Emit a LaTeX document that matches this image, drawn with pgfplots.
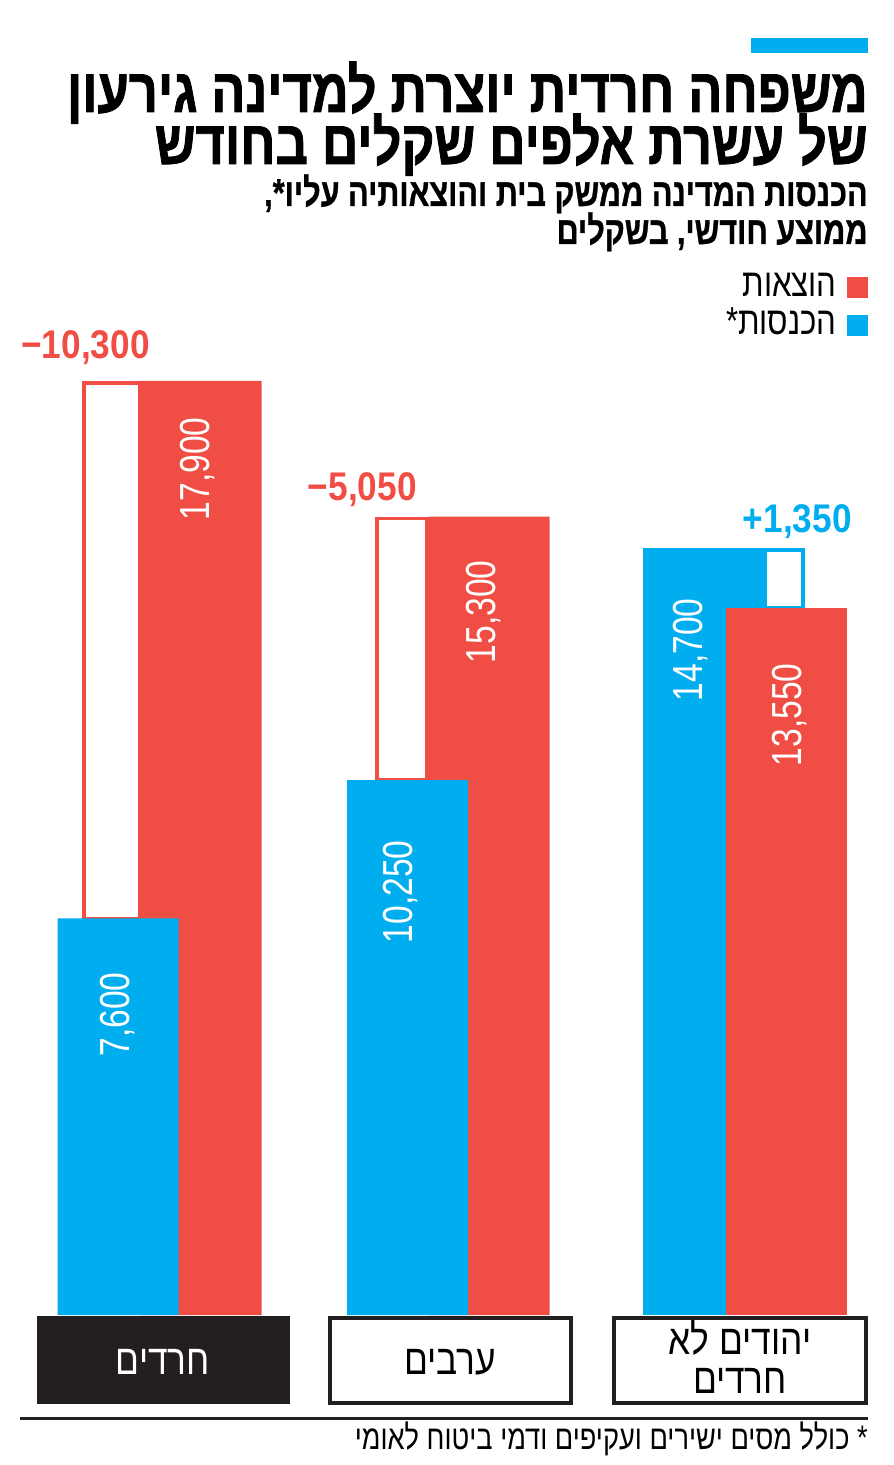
\documentclass[border=0pt]{standalone}
\usepackage{pgfplots}
\pgfplotsset{compat=1.18}
\usepackage{fontspec}
\setmainfont{Liberation Sans}
\TeXXeTstate=1
\newfontfamily\hebT[Script=Hebrew,FakeStretch=0.815,FakeBold=1.3]{Liberation Sans}
\newfontfamily\hebt[Script=Hebrew,FakeStretch=0.785,FakeBold=0.8]{Liberation Sans}
\newfontfamily\hebc[Script=Hebrew,FakeStretch=0.8]{Liberation Sans}
\newfontfamily\hebk[Script=Hebrew,FakeStretch=0.84]{Liberation Sans}
\newfontfamily\numc[FakeStretch=0.8]{Liberation Sans}
\newfontfamily\numb[FakeStretch=0.88]{Liberation Sans}
\definecolor{cblue}{HTML}{00AEEF}
\definecolor{cred}{HTML}{F04E45}
\definecolor{cblack}{HTML}{231F20}
\begin{document}
\begin{tikzpicture}[x=0.5pt,y=-0.5pt]
\path[use as bounding box] (0,0) rectangle (893,1465);
\begin{axis}[at={(0pt,-732.5pt)}, anchor=south west,
  width=446.5pt, height=732.5pt, scale only axis,
  xmin=0, xmax=893, ymin=-2874.7, ymax=25201.5,
  hide axis, clip=false]
% difference boxes (red)
\addplot[draw=cred, line width=1.7pt, fill=white] coordinates {(84,7600) (140,7600) (140,17860) (84,17860)} -- cycle;
\addplot[draw=cred, line width=1.7pt, fill=white] coordinates {(377,10250) (427,10250) (427,15260) (377,15260)} -- cycle;
% expenses, groups 1-2
\addplot[ybar, bar width=121, fill=cred, draw=none] coordinates {(201,17900) (489,15300)};
% income, groups 1-2
\addplot[ybar, bar width=121, fill=cblue, draw=none] coordinates {(118,7600) (407.5,10250)};
% difference box (blue)
\addplot[draw=cblue, line width=1.7pt, fill=white] coordinates {(765,13550) (803,13550) (803,14660) (765,14660)} -- cycle;
% income group 3
\addplot[ybar, bar width=121, fill=cblue, draw=none] coordinates {(703,14700)};
% expenses group 3
\addplot[ybar, bar width=121, fill=cred, draw=none] coordinates {(786.5,13550)};
\end{axis}
% accent bar
\fill[cblue] (751,38) rectangle (868,53);
% title
\node[anchor=base east, inner sep=0] at (868,112) {\fontsize{31}{31}\hebT\bfseries\beginR משפחה חרדית יוצרת למדינה גירעון\endR};
\node[anchor=base east, inner sep=0] at (868,164) {\fontsize{31}{31}\hebT\bfseries\beginR של עשרת אלפים שקלים בחודש\endR};
\node[anchor=base east, inner sep=0] at (868,206) {\fontsize{19.5}{19.5}\hebt\bfseries\beginR הכנסות המדינה ממשק בית והוצאותיה עליו*,\endR};
\node[anchor=base east, inner sep=0] at (868,244) {\fontsize{19.5}{19.5}\hebt\bfseries\beginR ממוצע חודשי, בשקלים\endR};
% legend
\fill[cred] (847,277) rectangle (868,298);
\fill[cblue] (847,315) rectangle (868,336);
\node[anchor=base east, inner sep=0] at (837,297) {\fontsize{19.5}{19.5}\hebc\beginR הוצאות\endR};
\node[anchor=base east, inner sep=0] at (837,335) {\fontsize{19.5}{19.5}\hebc\beginR הכנסות*\endR};
% differences
\node[anchor=base east, inner sep=0, text=cred] at (150,358) {\fontsize{20}{20}\numb\bfseries −10,300};
\node[anchor=base east, inner sep=0, text=cred] at (417,500) {\fontsize{20}{20}\numb\bfseries −5,050};
\node[anchor=base east, inner sep=0, text=cblue] at (852,532) {\fontsize{20}{20}\numb\bfseries +1,350};
% bar values
\node[rotate=90, anchor=east, inner sep=0, text=white] at (198,417) {\fontsize{21}{21}\numc 17,900};
\node[rotate=90, anchor=east, inner sep=0, text=white] at (118,972) {\fontsize{21}{21}\numc 7,600};
\node[rotate=90, anchor=east, inner sep=0, text=white] at (484,560) {\fontsize{21}{21}\numc 15,300};
\node[rotate=90, anchor=east, inner sep=0, text=white] at (401,840) {\fontsize{21}{21}\numc 10,250};
\node[rotate=90, anchor=east, inner sep=0, text=white] at (691,598) {\fontsize{21}{21}\numc 14,700};
\node[rotate=90, anchor=east, inner sep=0, text=white] at (790,663) {\fontsize{21}{21}\numc 13,550};
% category boxes
\fill[cblack] (37,1316) rectangle (290,1404);
\draw[cblack, line width=1.6pt] (330,1318) rectangle (571,1403);
\draw[cblack, line width=1.6pt] (614,1318) rectangle (866,1403);
\node[inner sep=0, text=white] at (163,1362) {\fontsize{21}{21}\hebk\beginR חרדים\endR};
\node[inner sep=0] at (450,1362) {\fontsize{21}{21}\hebk\beginR ערבים\endR};
\node[inner sep=0] at (740,1338) {\fontsize{21}{21}\hebk\beginR יהודים לא\endR};
\node[inner sep=0] at (740,1381) {\fontsize{21}{21}\hebk\beginR חרדים\endR};
% rule and footnote
\draw[cblack, line width=1.5pt] (20,1418) -- (868,1418);
\node[anchor=base east, inner sep=0] at (868,1449) {\fontsize{17}{17}\hebc\beginR * כולל מסים ישירים ועקיפים ודמי ביטוח לאומי\endR};
\end{tikzpicture}
\end{document}
